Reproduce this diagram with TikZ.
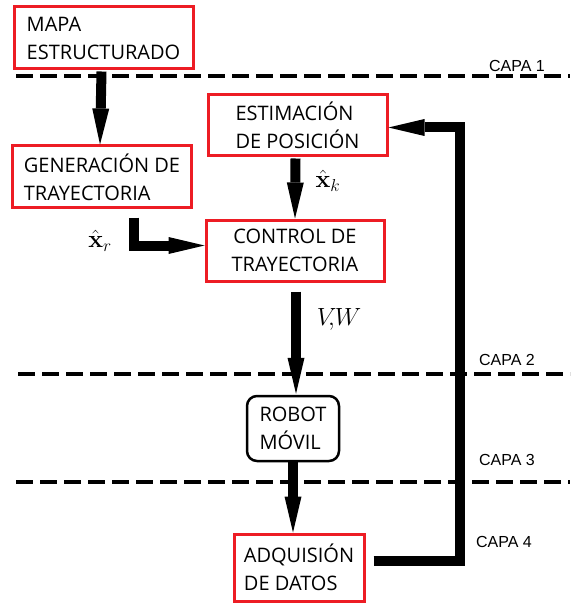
\documentclass[tikz,border=0pt]{standalone}
\usepackage[no-math]{fontspec}
\setmainfont{Open Sans}
\newfontfamily\capafont{Liberation Sans}
\usetikzlibrary{arrows.meta,calc}
\definecolor{boxred}{RGB}{237,28,36}
\tikzset{
	bloque/.style = {draw=boxred, line width=3pt, align=left, inner sep=0pt,
		font=\fontsize{20}{28}\selectfont},
	robotbox/.style = {draw, line width=2.5pt, rounded corners=10pt, align=left,
		inner sep=0pt, font=\fontsize{20}{28}\selectfont},
	flecha/.style = {line width=10pt, -{Triangle[length=36pt,width=17pt,line width=0pt]}},
	capa/.style = {line width=3.5pt, dash pattern=on 17pt off 7pt},
	etiqueta/.style = {font=\capafont\fontsize{16}{18}\selectfont},
	senal/.style = {inner sep=1pt, font=\fontsize{24}{26}\selectfont}
}
\begin{document}
\begin{tikzpicture}[x=1pt,y=-1pt]
			\useasboundingbox (0,0) rectangle (576,612);
			% capas
			\draw [capa] (16,76) -- (570,76);
			\draw [capa] (18,374) -- (570,374);
			\draw [capa] (16,482) -- (570,482);
			\node [etiqueta] (c1) at (517,66) {CAPA 1};
			\node [etiqueta] (c2) at (507,360) {CAPA 2};
			\node [etiqueta] (c3) at (507,460) {CAPA 3};
			\node [etiqueta] (c4) at (504,542) {CAPA 4};
			% bloques
			\node [bloque, minimum width=179pt, minimum height=62pt] (mapa) at (103.5,38) {MAPA\\ESTRUCTURADO};
			\node [bloque, minimum width=179pt, minimum height=62pt] (gen) at (102,177) {GENERACIÓN DE\\TRAYECTORIA};
			\node [bloque, minimum width=179pt, minimum height=61pt] (est) at (297.5,125.5) {ESTIMACIÓN\\DE POSICIÓN\hspace{20pt}};
			\node [bloque, align=center, minimum width=178pt, minimum height=61pt] (ctrl) at (295,250.5) {CONTROL DE\\TRAYECTORIA};
			\node [robotbox, minimum width=92pt, minimum height=65pt] (robot) at (293,428.5) {ROBOT\\MÓVIL};
			\node [bloque, minimum width=130pt, minimum height=67pt] (adq) at (299,567.5) {ADQUISIÓN\\DE DATOS};
			\coordinate (retorno) at (460,300);
			% flechas
			\draw [flecha] ($(mapa.south)+(-2,1)$) -- ($(gen.north)+(-2,0)$);
			\draw [flecha] ($(est.south)+(-2,1)$) -- ($(ctrl.north)+(0,0)$);
			\draw [flecha] ($(gen.south)+(32,8)$) |- ($(ctrl.west)+(0,-5)$);
			\draw [flecha] ($(ctrl.south)+(1,9)$) -- ($(robot.north)+(3,-1)$);
			\draw [flecha] (robot.south) -- (robot.south |- adq.north);
			\draw [flecha] ($(adq.east)+(8,-7)$) -| (retorno) |- ($(est.east)+(0,2)$);
			% senales
			\node [senal] (xk) at (328,181) {$\hat{\mathbf{x}}_k$};
			\node [senal] (xr) at (100,241) {$\hat{\mathbf{x}}_r$};
			\node [senal] (vw) at (339,319) {$V\!\!,\!W$};
		\end{tikzpicture}
\end{document}
